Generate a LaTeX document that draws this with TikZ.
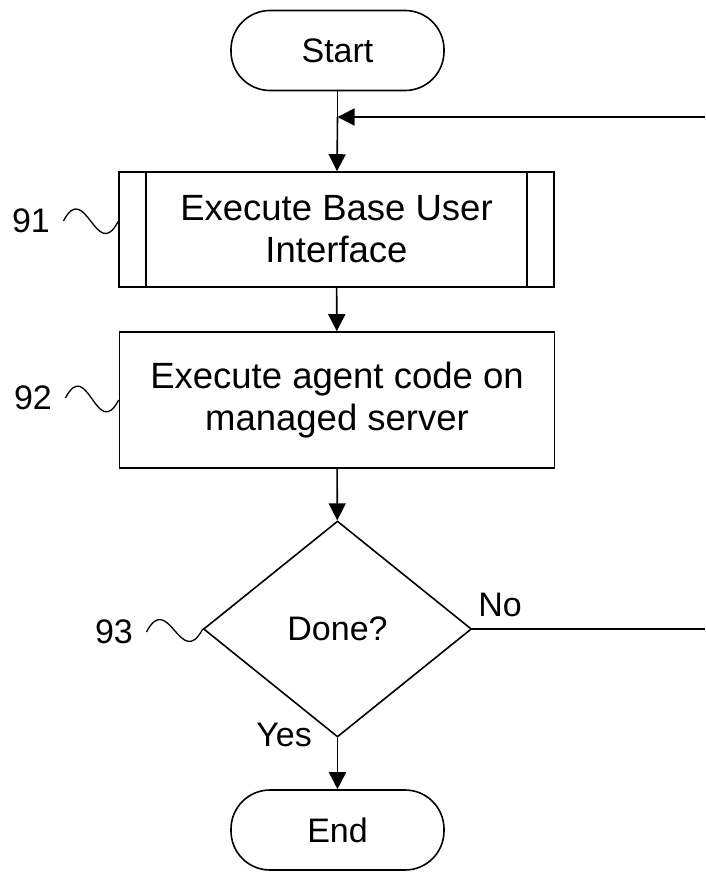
\documentclass[tikz,border=0pt]{standalone}
\usepackage{fontspec}
\setmainfont{Liberation Sans}
\usetikzlibrary{positioning, arrows.meta, shapes.geometric}

\begin{document}
\begin{tikzpicture}[
    x=1pt, y=-1pt,
    every node/.style={font=\fontsize{34}{42}\selectfont, align=center},
    terminal/.style={draw, rounded corners=39pt, minimum width=213pt, minimum height=80pt, line width=1.6pt},
    procbox/.style={draw, rectangle, minimum width=435pt, line width=1.6pt, font=\fontsize{36.5}{42}\selectfont},
    decision/.style={draw, diamond, minimum width=268pt, minimum height=216pt, inner sep=0pt, line width=1.6pt},
    flow/.style={line width=1.6pt, -{Triangle[length=17pt,width=17pt]}},
    squiggle/.style={line width=1.3pt}
]
\useasboundingbox (0,0) rectangle (705,872);

% =============================
% 0. Flow boxes
% =============================
\node[terminal] (start) at (337.5,50.5) {Start};

\node[procbox, minimum height=115pt] (ui) at (336.5,229.5) {Execute Base User\\Interface};
\draw[line width=1.6pt] ([xshift=28pt]ui.north west) -- ([xshift=28pt]ui.south west);
\draw[line width=1.6pt] ([xshift=-28pt]ui.north east) -- ([xshift=-28pt]ui.south east);

\node[procbox, minimum height=136pt] (agent) at (337,400) {Execute agent code on\\managed server};

\node[decision] (done) at (337.5,629) {Done?};

\node[terminal] (end) at (337.5,830) {End};

% =============================
% 1. Connectors
% =============================
\coordinate (retin) at (705,117);
\coordinate (join) at (start.south |- retin);
\coordinate (noout) at (705,629);

\draw[line width=1.6pt] (start) -- (join);
\draw[flow] (join) -- (ui);
\draw[flow] (retin) -- (join);
\draw[flow] (ui) -- (agent);
\draw[flow] (agent) -- (done);
\draw[flow] (done) -- (end);
\draw[line width=1.6pt] (done.east) -- (noout);

\node (no) at (500,605) {No};
\node (yes) at (284,735) {Yes};

% =============================
% 2. Reference numerals
% =============================
\node (l91) at (31,221) {91};
\node (l92) at (33,398) {92};
\node (l93) at (114,632) {93};

\draw[squiggle] ([xshift=10pt]l91.east) .. controls +(22,-42) and +(-22,42) .. ([yshift=8pt]ui.west);
\draw[squiggle] ([xshift=10pt]l92.east) .. controls +(22,-42) and +(-22,42) .. (agent.west);
\draw[squiggle] ([xshift=10pt]l93.east) .. controls +(22,-42) and +(-22,42) .. (done.west);
\end{tikzpicture}
\end{document}
